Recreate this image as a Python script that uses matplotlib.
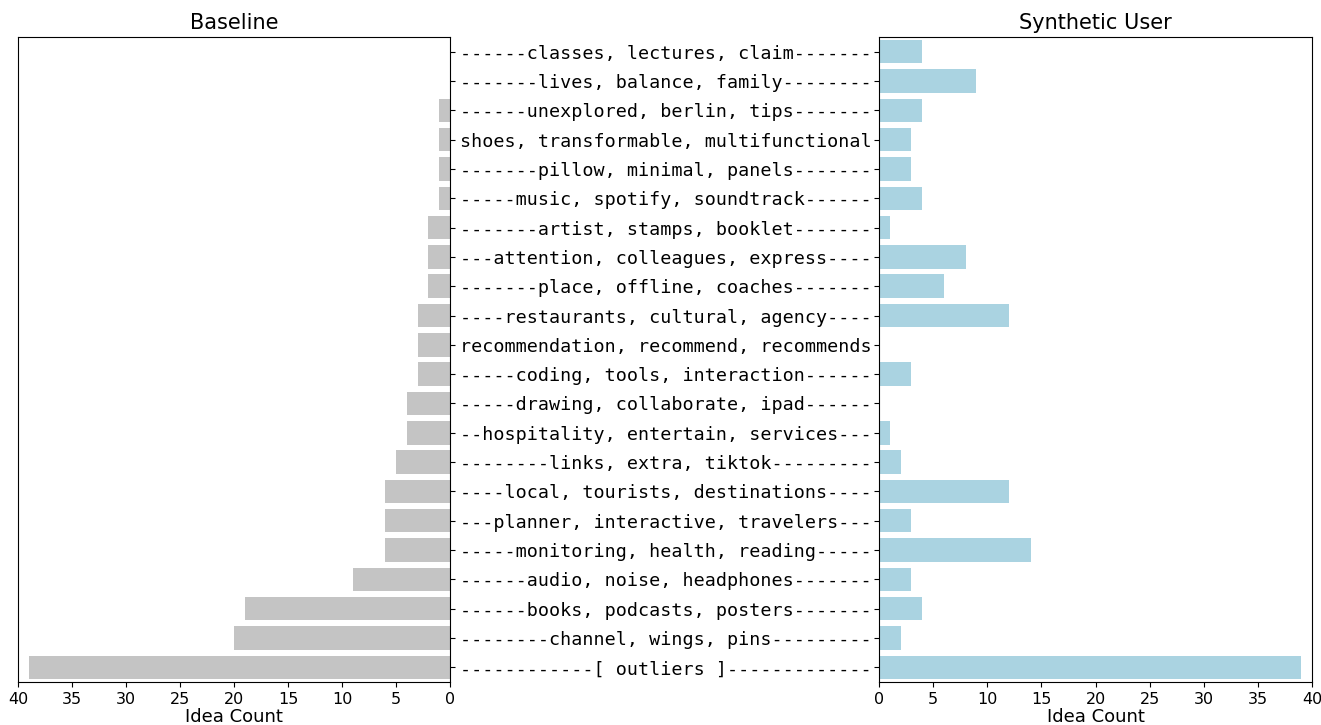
import numpy as np
import matplotlib.pyplot as plt

topics = [
    "classes, lectures, claim",
    "lives, balance, family",
    "unexplored, berlin, tips",
    "shoes, transformable, multifunctional",
    "pillow, minimal, panels",
    "music, spotify, soundtrack",
    "artist, stamps, booklet",
    "attention, colleagues, express",
    "place, offline, coaches",
    "restaurants, cultural, agency",
    "recommendation, recommend, recommends",
    "coding, tools, interaction",
    "drawing, collaborate, ipad",
    "hospitality, entertain, services",
    "links, extra, tiktok",
    "local, tourists, destinations",
    "planner, interactive, travelers",
    "monitoring, health, reading",
    "audio, noise, headphones",
    "books, podcasts, posters",
    "channel, wings, pins",
    "[ outliers ]",
]
baseline = [0, 0, 1, 1, 1, 1, 2, 2, 2, 3, 3, 3, 4, 4, 5, 6, 6, 6, 9, 19, 20, 39]
synthetic = [4, 9, 4, 3, 3, 4, 1, 8, 6, 12, 0, 3, 0, 1, 2, 12, 3, 14, 3, 4, 2, 39]

width = max(len(t) for t in topics)
labels = [f"{t:-^{width}}" for t in topics]
y = np.arange(len(topics))

fig = plt.figure(figsize=(13.21, 7.25), dpi=100)
ax1 = fig.add_axes([0.0136, 0.0593, 0.327, 0.8897])
ax2 = fig.add_axes([0.6654, 0.0593, 0.3278, 0.8897])

ax1.barh(y, baseline, height=0.8, color='#c4c4c4')
ax1.set_xlim(40, 0)
ax1.set_ylim(len(topics) - 0.5, -0.5)
ax1.yaxis.tick_right()
ax1.set_yticks(y)
ax1.set_yticklabels([])
ax1.set_title("Baseline", fontsize=15)
ax1.set_xlabel("Idea Count", fontsize=13, labelpad=1)

ax2.barh(y, synthetic, height=0.8, color='#aad3e1')
ax2.set_xlim(0, 40)
ax2.set_ylim(len(topics) - 0.5, -0.5)
ax2.set_yticks(y)
ax2.set_yticklabels(labels, family='DejaVu Sans Mono', fontsize=13.2)
ax2.tick_params(axis='y', pad=1.5)
ax2.set_title("Synthetic User", fontsize=15)
ax2.set_xlabel("Idea Count", fontsize=13, labelpad=1)

for ax in (ax1, ax2):
    ax.set_xticks(np.arange(0, 41, 5))
    ax.tick_params(axis='x', labelsize=11.5)

fig.savefig("out.png", dpi=100)
